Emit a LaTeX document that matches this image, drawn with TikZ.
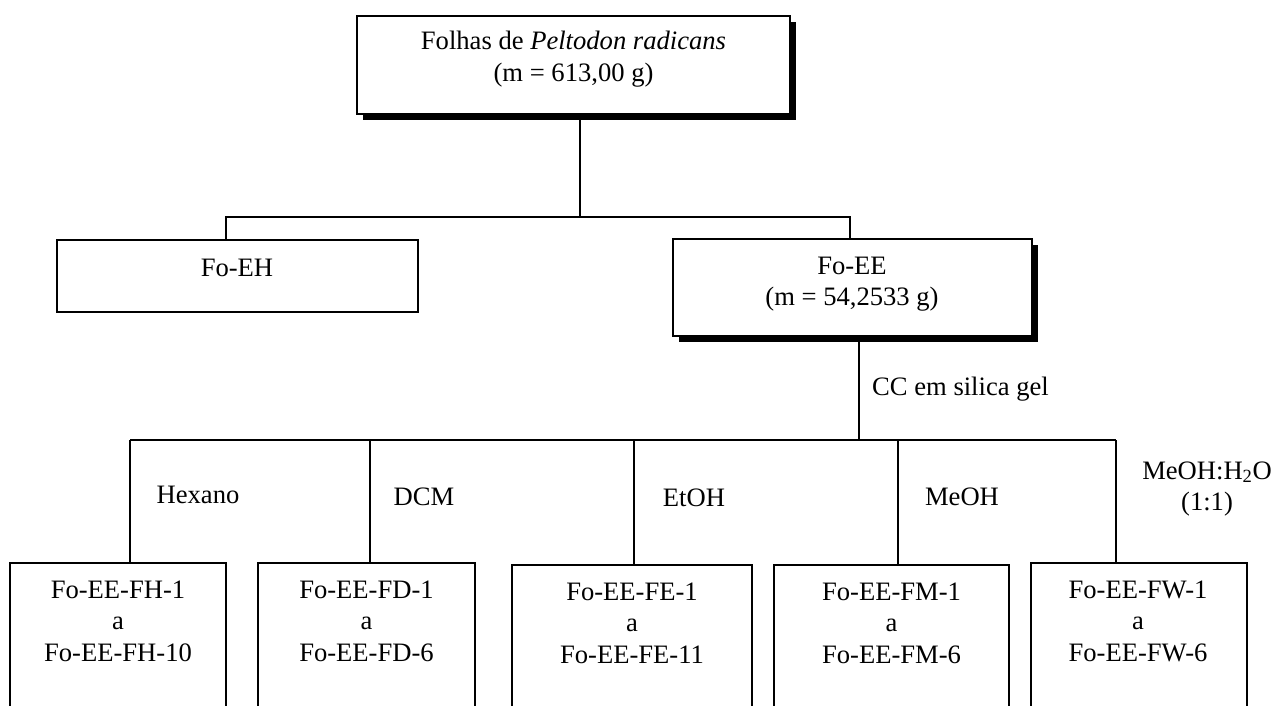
\documentclass[tikz,border=0pt]{standalone}
\usepackage{fontspec}
\setmainfont{Liberation Serif}
\usetikzlibrary{shadows}
\begin{document}
\begin{tikzpicture}[x=1pt,y=-1pt,
  box/.style={draw, line width=1.4pt, fill=white, rectangle, inner sep=0pt, outer sep=0pt, anchor=north west},
  shadowbox/.style={box, drop shadow={shadow xshift=6pt, shadow yshift=-6pt, opacity=1, fill=black}},
  lbl/.style={font=\fontsize{26.6}{31.5}\selectfont, align=center, inner sep=0pt},
  link/.style={line width=1.4pt}]
\clip (0,0) rectangle (1279,705);
\fill[white] (0,0) rectangle (1279,705);

% junction points of the connectors
\coordinate (j0) at (580,217);
\coordinate (b1) at (226,217);
\coordinate (b2) at (850,217);
\coordinate (c0) at (859,440);
\coordinate (h1) at (130,440);
\coordinate (h2) at (370,440);
\coordinate (h3) at (634,440);
\coordinate (h4) at (898,440);
\coordinate (h5) at (1116,440);

% boxes
\node[shadowbox, minimum width=433pt, minimum height=98pt] (src) at (357,16) {};
\node[box, minimum width=361pt, minimum height=72pt] (eh) at (57,240) {};
\node[shadowbox, minimum width=359pt, minimum height=97pt] (ee) at (673,239) {};
\node[box, minimum width=216pt, minimum height=200pt] (fh) at (10,563) {};
\node[box, minimum width=217pt, minimum height=200pt] (fd) at (258,563) {};
\node[box, minimum width=240pt, minimum height=200pt] (fe) at (512,565) {};
\node[box, minimum width=235pt, minimum height=200pt] (fm) at (774,565) {};
\node[box, minimum width=216pt, minimum height=200pt] (fw) at (1031,563) {};

% box texts
\node[lbl] (tsrc) at (573.5,59) {Folhas de \textit{Peltodon radicans}\\(m = 613,00 g)};
\node[lbl] (teh) at (237,268) {Fo-EH};
\node[lbl] (tee) at (852,284) {Fo-EE\\(m = 54,2533 g)};
\node[lbl] (tfh) at (118,621) {Fo-EE-FH-1\\a\\Fo-EE-FH-10};
\node[lbl] (tfd) at (366.5,621) {Fo-EE-FD-1\\a\\Fo-EE-FD-6};
\node[lbl] (tfe) at (632,623) {Fo-EE-FE-1\\a\\Fo-EE-FE-11};
\node[lbl] (tfm) at (891.5,623) {Fo-EE-FM-1\\a\\Fo-EE-FM-6};
\node[lbl] (tfw) at (1138,621) {Fo-EE-FW-1\\a\\Fo-EE-FW-6};

% connector labels
\node[lbl, anchor=west] (tcc) at (872,389) {CC em silica gel};
\node[lbl] (thex) at (198,495) {Hexano};
\node[lbl] (tdcm) at (424,497) {DCM};
\node[lbl] (teto) at (694,498) {EtOH};
\node[lbl] (tmeo) at (962,497) {MeOH};
\node[lbl] (tmw) at (1207,489) {MeOH:H\textsubscript{2}O\\(1:1)};

% connectors
\draw[link] (src.south -| j0) -- (j0);
\draw[link] (eh.north -| b1) -- (b1) -- (b2) -- (ee.north -| b2);
\draw[link] (ee.south -| c0) -- (c0);
\draw[link] (h1) -- (h5);
\draw[link] (h1) -- (fh.north -| h1);
\draw[link] (h2) -- (fd.north -| h2);
\draw[link] (h3) -- (fe.north -| h3);
\draw[link] (h4) -- (fm.north -| h4);
\draw[link] (h5) -- (fw.north -| h5);
\end{tikzpicture}
\end{document}
